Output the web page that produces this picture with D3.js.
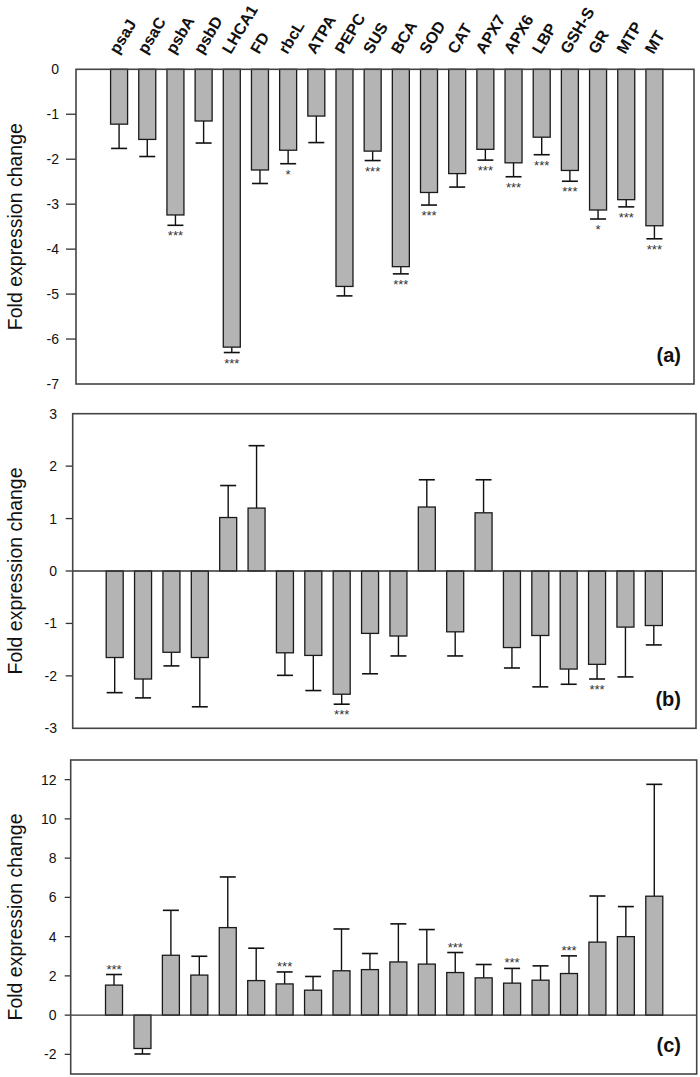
<!DOCTYPE html>
<html><head><meta charset="utf-8">
<script src="https://cdn.jsdelivr.net/npm/d3@7"></script>
<style>body{margin:0;background:#fff}svg{display:block}text{font-family:"Liberation Sans",Arial,sans-serif}</style>
</head><body>
<svg id="chart" width="700" height="1077"></svg>
<script>
const categories = ["psaJ","psaC","psbA","psbD","LHCA1","FD","rbcL","ATPA","PEPC","SUS","BCA","SOD","CAT","APX7","APX6","LBP","GSH-S","GR","MTP","MT"];

const aValues = [-1.22,-1.56,-3.24,-1.15,-6.18,-2.24,-1.80,-1.04,-4.83,-1.82,-4.39,-2.74,-2.32,-1.78,-2.08,-1.51,-2.25,-3.13,-2.90,-3.48];
const aErrors = [0.54,0.38,0.23,0.49,0.12,0.30,0.30,0.59,0.21,0.21,0.16,0.28,0.30,0.24,0.31,0.39,0.24,0.20,0.16,0.29];
const aSig    = ["","","***","","***","","*","","","***","***","***","","***","***","***","***","*","***","***"];

const bValues = [-1.65,-2.06,-1.55,-1.65,1.02,1.20,-1.56,-1.61,-2.35,-1.19,-1.24,1.22,-1.16,1.11,-1.46,-1.23,-1.87,-1.78,-1.07,-1.04];
const bErrors = [0.67,0.36,0.26,0.94,0.61,1.19,0.43,0.67,0.19,0.77,0.38,0.52,0.46,0.63,0.39,0.98,0.29,0.28,0.95,0.37];
const bSig    = ["","","","","","","","","***","","","","","","","","","***","",""];

const cValues = [1.53,-1.70,3.05,2.04,4.46,1.76,1.59,1.27,2.26,2.32,2.71,2.60,2.17,1.90,1.63,1.78,2.12,3.72,4.00,6.06];
const cErrors = [0.54,0.28,2.29,0.96,2.58,1.65,0.61,0.70,2.13,0.82,1.94,1.76,1.02,0.68,0.75,0.73,0.90,2.35,1.53,5.70];
const cSig    = ["***","","","","","","***","","","","","","***","","***","","***","","",""];

const aTicks = [0,-1,-2,-3,-4,-5,-6,-7];
const bTicks = [3,2,1,0,-1,-2,-3];
const cTicks = [12,10,8,6,4,2,0,-2];

const svg = d3.select("#chart");

const panels = [
  {vals:aValues, errs:aErrors, sig:aSig, ticks:aTicks, domain:[-7,0], label:"(a)",
   left:76, right:694, top:69.3, bottom:384, xr:[105,668.5], tickLen:10, labelX:59, zero:false},
  {vals:bValues, errs:bErrors, sig:bSig, ticks:bTicks, domain:[-3,3], label:"(b)",
   left:72.7, right:696, top:413.7, bottom:728.3, xr:[100.5,668], tickLen:7, labelX:57, zero:true},
  {vals:cValues, errs:cErrors, sig:cSig, ticks:cTicks, domain:[-3,13], label:"(c)",
   left:70.7, right:696.7, top:760, bottom:1074, xr:[99.8,668.5], tickLen:6, labelX:56.5, zero:true}
];

panels.forEach((p, pi) => {
  const g = svg.append("g");
  const y = d3.scaleLinear().domain(p.domain).range([p.bottom, p.top]);
  const x = d3.scaleBand().domain(categories).range(p.xr).paddingInner(0.4).paddingOuter(0.2);
  const cx = (c) => x(c) + x.bandwidth()/2;
  const bw = 17;

  p.ticks.forEach(t => {
    const yy = y(t);
    const atEdge = (t === p.domain[0] || t === p.domain[1]);
    if (!atEdge) {
      g.append("line").attr("x1", p.left - p.tickLen).attr("x2", p.left)
        .attr("y1", yy).attr("y2", yy).attr("stroke", "#333").attr("stroke-width", 1.3);
    }
    g.append("text").attr("x", p.labelX).attr("y", yy).attr("dy", "0.36em")
      .attr("text-anchor", "end").attr("font-size", 14).attr("fill", "#111").text(t);
  });

  const data = categories.map((c, i) => ({c, v:p.vals[i], e:p.errs[i], s:p.sig[i]}));
  data.forEach(d => {
    const end = d.v < 0 ? d.v - d.e : d.v + d.e;
    const xc = cx(d.c);
    g.append("line").attr("x1", xc).attr("x2", xc).attr("y1", y(d.v)).attr("y2", y(end))
      .attr("stroke", "#111").attr("stroke-width", 1.4);
    g.append("line").attr("x1", xc - 8).attr("x2", xc + 8).attr("y1", y(end)).attr("y2", y(end))
      .attr("stroke", "#111").attr("stroke-width", 1.6);
    if (d.s) {
      g.append("text").attr("x", xc).attr("y", d.v < 0 ? y(end) + 15 : y(end) - 1)
        .attr("text-anchor", "middle").attr("font-size", 13).attr("fill", "#333").text(d.s);
    }
  });
  g.selectAll("rect.bar").data(data).enter().append("rect")
    .attr("class", "bar")
    .attr("x", d => cx(d.c) - bw/2)
    .attr("width", bw)
    .attr("y", d => y(Math.max(0, d.v)))
    .attr("height", d => Math.abs(y(d.v) - y(0)))
    .attr("fill", "#b4b4b4").attr("stroke", "#1a1a1a").attr("stroke-width", 1.3);

  if (p.zero) {
    g.append("line").attr("x1", p.left).attr("x2", p.right).attr("y1", y(0)).attr("y2", y(0))
      .attr("stroke", "#333").attr("stroke-width", 1.4);
  }

  g.append("rect").attr("x", p.left).attr("y", p.top).attr("width", p.right - p.left)
    .attr("height", p.bottom - p.top).attr("fill", "none").attr("stroke", "#444").attr("stroke-width", 1.6);

  g.append("text").attr("x", 681).attr("y", p.bottom - 22).attr("text-anchor", "end")
    .attr("font-size", 20).attr("font-weight", "bold").attr("fill", "#111").text(p.label);

  g.append("text").attr("transform", `translate(22,${(p.top + p.bottom)/2}) rotate(-90)`)
    .attr("text-anchor", "middle").attr("font-size", 19.5).attr("fill", "#111").text("Fold expression change");

  if (pi === 0) {
    categories.forEach(c => {
      g.append("text").attr("transform", `translate(${cx(c) - 1},55) rotate(-59)`)
        .attr("text-anchor", "start").attr("font-size", 16).attr("font-weight", "bold")
        .attr("fill", "#111").text(c);
    });
  }
});
</script>
</body></html>
